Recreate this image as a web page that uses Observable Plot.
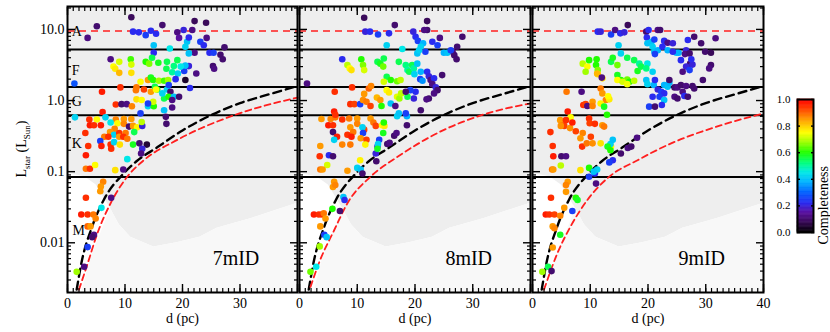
<!DOCTYPE html>
<html><head><meta charset="utf-8">
<script src="https://cdn.jsdelivr.net/npm/d3@7"></script>
<script src="https://cdn.jsdelivr.net/npm/@observablehq/plot@0.6"></script>
<style>
body{margin:0;background:#fff;}
#fig{position:relative;width:830px;height:332px;overflow:hidden;background:#fff;font-family:"Liberation Serif","Times New Roman",serif;}
#fig svg{position:absolute;top:0;}
#ylab{position:absolute;left:23px;top:149px;transform:translate(-50%,-50%) rotate(-90deg);font-size:14px;white-space:nowrap;color:#000;}
#ylab sub{font-size:9px;}
</style></head><body>
<div id="fig"><div id="ylab">L<sub>star</sub> (L<sub>Sun</sub>)</div></div>
<script>
// ---------- data ----------
const yDomain = [0.002, 21];
const xDomain = [0, 40];
const yMajor = [0.01, 0.1, 1, 10];
const yMajorText = ["0.01", "0.1", "1.0", "10.0"];
const yMinor = [0.003,0.004,0.005,0.006,0.007,0.008,0.009,0.02,0.03,0.04,0.05,0.06,0.07,0.08,0.09,0.2,0.3,0.4,0.5,0.6,0.7,0.8,0.9,2,3,4,5,6,7,8,9,20];
const xMajor = [0, 10, 20, 30, 40];
const xMinor = d3.range(0, 41, 1);
const xLabelsInner = [0, 10, 20, 30];
const xLabelsLast = [0, 10, 20, 30, 40];

const specBounds = [5.2, 1.55, 0.62, 0.084];   // A/F, F/G, G/K, K/M
const aLine = [9.5];
const letterNames = ["A", "F", "G", "K", "M"];
const letterD = [0.75, 0.75, 0.75, 0.75, 0.85];
const letterL = [9.3, 2.62, 0.96, 0.25, 0.0151];

const tagNames = ["7mID", "8mID", "9mID"];
const tagD = 29.3, tagL = 0.006;

// grey background population: dense cloud outline and sparse lower zone
const denseD   = [0, 3, 5, 7.5, 9, 11, 15, 19, 23, 26, 32, 40];
const denseLow = [0.095, 0.085, 0.065, 0.03, 0.018, 0.012, 0.0087, 0.01, 0.012, 0.016, 0.022, 0.036];
const sparseD  = [2.5, 4, 6, 7.5, 9, 11, 15, 19, 23, 26, 32, 40];
const sparseHi = [0.002, 0.006, 0.015, 0.03, 0.018, 0.012, 0.0087, 0.01, 0.012, 0.016, 0.022, 0.036];

// dashed curves
const blackD = [1.6, 2.4, 4.3, 6.3, 9.8, 12, 15.6, 20, 24.9, 30, 35, 40];
const blackL = [0.0022, 0.0051, 0.017, 0.04, 0.095, 0.14, 0.22, 0.38, 0.62, 0.92, 1.22, 1.6];
const red7D = [2.0, 3.5, 5.2, 7.5, 10.4, 13.3, 19.1, 28.9, 40];
const red7L = [0.0022, 0.0051, 0.0136, 0.036, 0.085, 0.145, 0.28, 0.62, 1.1];
const red8D = [1.9, 3.6, 6.0, 8.3, 12.3, 16.9, 23.3, 32.5, 40];
const red8L = [0.0024, 0.0058, 0.015, 0.036, 0.085, 0.16, 0.33, 0.66, 0.91];
const red9D = [2.0, 4.3, 6.6, 9.5, 13.3, 18.2, 24.0, 32.7, 40];
const red9L = [0.0022, 0.0071, 0.017, 0.04, 0.085, 0.145, 0.25, 0.45, 0.66];

// colour bar
const colorStops = [0, 0.08, 0.15, 0.22, 0.3, 0.38, 0.45, 0.52, 0.6, 0.68, 0.75, 0.85, 0.93, 1];
const colorRange = ["#000000","#3a0a5a","#5a10a0","#2a2af0","#0060ff","#00b4ff","#00e8e8","#00ff80","#20ff00","#a0ff00","#ffff00","#ff9a00","#ff4000","#ff0000"];
const cbTicks = [0, 0.2, 0.4, 0.6, 0.8, 1.0];

// stars: [d (pc), L (Lsun), completeness]
const stars7 = [
[11.1,14.8,0.08],[5.1,11.1,0.1],[3.5,7.6,0.12],[11.4,9.3,0.22],[12.4,9.1,0.22],[13.6,8.3,0.25],[14.5,9.6,0.22],[15.4,8.7,0.22],[16.5,11.5,0.1],[19.1,9.1,0.12],[19.4,7.6,0.15],[20.2,9.8,0.2],[21.7,9.8,0.12],[22.1,13.1,0.08],[24.1,12.4,0.08],[20.8,6.7,0.4],[21.1,7.7,0.22],[23.1,6.7,0.25],[24.2,7.6,0.12],[23.7,6.0,0.22],[20.5,5.7,0.42],[22.1,4.7,0.12],[21.1,4.6,0.4],[24.7,4.7,0.22],[25.4,4.7,0.25],[27.3,5.6,0.1],[26.6,4.4,0.1],[27.0,3.8,0.1],[25.3,3.05,0.1],[25.5,2.8,0.12],[15.0,6.0,0.4],[17.8,5.4,0.45],[15.0,4.7,0.22],[7.5,3.8,0.12],[9.0,3.5,0.72],[8.0,3.0,0.75],[8.3,2.8,0.77],[9.0,2.45,0.82],[11.0,3.8,0.62],[11.1,3.2,0.72],[11.1,2.45,0.78],[13.6,3.5,0.6],[14.2,3.3,0.66],[14.7,4.0,0.55],[15.8,3.4,0.58],[17.3,3.5,0.55],[17.2,2.8,0.55],[18.5,3.05,0.52],[19.1,3.7,0.55],[18.2,2.5,0.5],[19.2,2.4,0.42],[20.3,2.6,0.25],[21.1,3.05,0.2],[22.4,2.4,0.12],[20.5,3.1,0.4],[19.7,3.0,0.45],[20.5,1.94,0.04],[18.8,2.0,0.22],[21.3,1.5,0.22],[12.7,1.84,0.75],[14.0,1.94,0.85],[14.5,2.1,0.58],[14.9,1.94,0.6],[15.9,1.9,0.68],[16.8,1.9,0.62],[17.5,1.94,0.68],[15.6,1.43,0.58],[15.2,1.56,0.55],[17.3,1.43,0.42],[17.6,1.65,0.25],[17.9,1.33,0.1],[16.8,1.07,0.55],[17.6,1.13,0.6],[18.5,1.13,0.4],[19.4,1.13,0.1],[18.2,1.02,0.12],[16.5,1.26,0.42],[6.0,1.33,0.97],[9.2,1.53,0.95],[12.0,1.53,0.88],[11.9,1.4,0.88],[14.5,1.33,0.85],[13.3,1.43,0.93],[15.4,1.43,0.75],[1.2,1.74,0.28],[8.4,0.88,0.95],[9.4,0.89,0.1],[10.3,0.89,0.12],[11.2,0.83,0.87],[12.0,1.04,0.78],[12.9,1.02,0.75],[14.0,0.83,0.42],[15.0,0.83,0.6],[14.9,0.96,0.72],[12.7,0.66,0.25],[14.0,0.91,0.25],[16.8,0.73,0.4],[17.1,0.59,0.1],[18.2,0.8,0.12],[17.2,0.47,0.1],[6.1,0.69,0.97],[1.3,0.58,0.42],[3.8,0.54,0.95],[5.1,0.54,0.75],[6.6,0.58,0.42],[8.4,0.54,0.87],[9.8,0.55,0.85],[11.1,0.55,0.85],[3.9,0.45,0.97],[4.6,0.45,0.95],[5.8,0.45,0.97],[7.5,0.49,0.45],[8.7,0.48,0.75],[9.8,0.47,0.87],[10.7,0.43,0.1],[11.4,0.44,0.85],[12.1,0.42,0.76],[13.0,0.44,0.2],[12.9,0.5,0.7],[3.1,0.35,0.95],[8.2,0.4,0.87],[7.4,0.36,0.85],[8.1,0.33,0.42],[9.0,0.35,0.95],[10.1,0.35,0.88],[11.6,0.36,0.55],[6.4,0.31,0.88],[7.1,0.31,0.95],[9.0,0.31,0.85],[9.7,0.31,0.95],[5.7,0.27,0.25],[5.9,0.23,0.97],[3.6,0.23,0.95],[7.5,0.24,0.95],[8.1,0.26,0.42],[9.1,0.24,0.78],[10.4,0.29,0.88],[11.4,0.24,0.58],[12.5,0.25,0.1],[13.8,0.24,0.05],[13.0,0.21,0.2],[12.8,0.18,0.12],[7.6,0.21,0.95],[3.2,0.17,0.97],[3.2,0.11,0.88],[3.9,0.11,0.95],[4.8,0.124,0.75],[8.3,0.105,0.78],[10.4,0.15,0.45],[9.7,0.107,0.12],[6.2,0.072,0.87],[5.8,0.062,0.85],[5.7,0.053,0.85],[3.2,0.043,0.95],[7.6,0.043,0.12],[2.4,0.025,0.97],[3.5,0.025,0.95],[4.5,0.025,0.88],[5.9,0.031,0.45],[4.9,0.022,0.87],[3.5,0.017,0.9],[4.0,0.017,0.85],[4.6,0.013,0.12],[4.3,0.012,0.1],[3.5,0.0087,0.25],[2.9,0.0046,0.12],[1.6,0.0039,0.68]
];
const stars8 = [
[11.2,14.6,0.08],[11.4,9.3,0.2],[12.2,9.3,0.22],[13.6,8.5,0.25],[15.5,8.8,0.22],[16.5,11.5,0.1],[22.1,13.1,0.08],[22.1,9.8,0.1],[21.6,9.8,0.12],[19.7,9.3,0.2],[20.1,7.9,0.22],[20.5,6.9,0.25],[21.4,6.4,0.38],[21.0,5.7,0.42],[21.8,4.85,0.25],[20.4,4.6,0.4],[20.7,5.1,0.42],[23.0,6.7,0.22],[23.9,6.0,0.25],[24.3,7.6,0.12],[28.2,7.9,0.1],[27.3,5.7,0.1],[26.5,4.85,0.12],[26.8,4.35,0.1],[27.2,3.8,0.1],[25.0,4.7,0.38],[25.6,4.7,0.4],[26.2,5.1,0.25],[15.1,6.0,0.42],[17.8,5.3,0.45],[7.4,3.8,0.22],[8.3,3.15,0.7],[8.7,2.83,0.75],[9.0,2.68,0.78],[10.7,3.8,0.6],[11.0,3.15,0.66],[11.2,2.68,0.72],[13.5,3.5,0.55],[14.0,3.3,0.58],[14.6,3.9,0.55],[14.5,3.0,0.65],[17.2,3.5,0.55],[18.4,3.15,0.52],[18.7,2.68,0.5],[19.0,2.54,0.55],[19.5,3.15,0.55],[19.8,2.83,0.5],[19.9,2.35,0.42],[20.4,3.3,0.4],[21.0,2.54,0.38],[20.9,2.0,0.25],[21.3,1.9,0.35],[22.1,2.54,0.22],[22.4,2.2,0.2],[22.7,1.94,0.12],[23.3,2.05,0.22],[24.7,2.28,0.1],[23.0,1.7,0.12],[23.6,1.53,0.2],[23.9,1.4,0.1],[23.3,1.26,0.12],[22.4,1.07,0.1],[22.0,1.04,0.12],[21.0,0.73,0.1],[19.8,1.07,0.2],[20.1,1.33,0.22],[19.2,1.4,0.25],[15.1,2.16,0.55],[15.8,1.94,0.6],[16.9,1.87,0.65],[17.5,1.94,0.7],[14.6,1.84,0.72],[12.0,1.48,0.9],[12.4,1.6,0.87],[6.1,1.33,0.95],[9.1,1.53,0.95],[1.3,1.74,0.12],[11.2,1.24,0.85],[13.4,1.1,0.82],[14.0,1.02,0.85],[15.1,1.4,0.75],[15.5,1.3,0.77],[16.9,1.13,0.73],[17.3,1.07,0.68],[17.6,1.26,0.7],[18.7,1.13,0.55],[18.4,1.33,0.1],[8.8,0.89,0.95],[9.5,0.89,0.93],[10.5,0.89,0.25],[11.0,1.02,0.86],[11.6,0.96,0.88],[12.3,0.84,0.93],[14.2,0.84,0.6],[15.8,0.91,0.4],[16.6,0.84,0.12],[16.9,0.6,0.42],[17.2,0.66,0.4],[18.6,0.6,0.38],[18.4,0.66,0.25],[18.6,0.45,0.1],[3.8,0.55,0.85],[5.4,0.55,0.87],[6.2,0.58,0.88],[6.0,0.7,0.97],[6.2,0.63,0.95],[5.0,0.45,0.97],[5.8,0.45,0.95],[8.6,0.56,0.88],[10.0,0.56,0.85],[10.0,0.47,0.87],[8.8,0.42,0.85],[9.3,0.36,0.88],[7.4,0.54,0.95],[11.2,0.39,0.93],[12.3,0.56,0.85],[12.8,0.49,0.88],[13.2,0.44,0.93],[14.3,0.45,0.75],[14.7,0.44,0.77],[10.9,0.42,0.42],[11.0,0.35,0.25],[14.5,0.35,0.58],[14.6,0.49,0.6],[5.8,0.36,0.1],[6.5,0.31,0.97],[8.3,0.33,0.95],[9.0,0.31,0.97],[6.0,0.28,0.42],[3.6,0.23,0.85],[7.4,0.24,0.87],[8.8,0.24,0.88],[10.6,0.295,0.85],[11.6,0.28,0.93],[11.4,0.24,0.76],[5.1,0.17,0.22],[5.8,0.165,0.1],[3.5,0.165,0.95],[4.8,0.124,0.72],[3.6,0.107,0.88],[4.0,0.107,0.85],[8.3,0.103,0.85],[10.5,0.145,0.76],[10.0,0.113,0.42],[10.6,0.107,0.4],[10.9,0.094,0.1],[13.3,0.14,0.1],[13.8,0.28,0.25],[13.5,0.225,0.22],[13.2,0.18,0.2],[13.6,0.245,0.42],[13.5,0.21,0.58],[15.2,0.245,0.1],[15.6,0.255,0.12],[16.4,0.32,0.1],[16.8,0.35,0.12],[6.0,0.072,0.85],[5.8,0.061,0.85],[6.2,0.065,0.87],[2.5,0.025,0.97],[3.35,0.025,0.95],[3.9,0.025,0.95],[4.2,0.026,0.88],[4.5,0.022,0.85],[5.7,0.03,0.6],[3.6,0.017,0.85],[7.6,0.044,0.4],[7.8,0.04,0.22],[7.0,0.028,0.1],[4.3,0.013,0.25],[4.7,0.012,0.4],[3.5,0.0089,0.68],[2.9,0.0046,0.45],[1.9,0.0039,0.65]
];
const stars9 = [
[16.5,11.5,0.08],[11.3,9.3,0.22],[11.8,9.3,0.2],[13.6,8.5,0.25],[14.3,9.8,0.12],[15.2,8.8,0.22],[15.9,9.1,0.2],[19.7,9.3,0.1],[20.1,9.8,0.22],[21.7,9.8,0.12],[22.1,9.8,0.1],[19.8,7.7,0.22],[20.6,6.7,0.4],[21.1,7.2,0.25],[22.8,6.9,0.22],[23.4,6.5,0.12],[24.3,6.4,0.2],[26.9,7.1,0.22],[28.0,7.9,0.1],[29.2,6.4,0.1],[31.7,7.5,0.12],[14.9,6.0,0.42],[19.9,6.4,0.4],[20.8,5.7,0.42],[21.1,4.85,0.4],[21.7,5.1,0.38],[21.2,4.5,0.25],[22.5,5.7,0.22],[23.4,5.1,0.38],[24.9,4.7,0.4],[25.3,4.7,0.38],[24.3,4.85,0.22],[26.6,5.1,0.2],[26.4,4.5,0.12],[27.2,4.6,0.1],[29.9,4.85,0.1],[30.9,4.7,0.08],[27.3,3.3,0.1],[27.7,3.2,0.2],[30.9,3.15,0.1],[30.6,2.83,0.12],[29.5,1.94,0.1],[25.7,3.7,0.22],[26.6,3.0,0.2],[27.2,2.68,0.25],[27.5,3.8,0.22],[26.0,2.54,0.12],[13.6,3.5,0.55],[13.9,4.0,0.58],[14.7,3.15,0.65],[8.7,3.3,0.7],[9.5,3.0,0.75],[9.2,2.54,0.68],[11.0,3.15,0.6],[11.1,3.8,0.6],[9.8,3.7,0.6],[11.3,2.68,0.66],[11.3,2.35,0.78],[12.1,2.05,0.78],[11.2,2.4,0.82],[12.0,2.1,0.12],[15.3,4.6,0.42],[16.4,4.0,0.55],[17.6,3.7,0.55],[18.5,3.3,0.5],[18.2,2.6,0.58],[18.8,3.0,0.55],[19.9,3.3,0.45],[19.7,2.83,0.52],[20.8,2.54,0.42],[14.7,2.28,0.58],[15.3,1.94,0.6],[16.4,1.97,0.65],[16.8,1.84,0.6],[14.7,1.94,0.75],[15.6,1.84,0.72],[16.4,1.7,0.74],[17.6,1.9,0.7],[19.7,1.94,0.4],[19.9,1.7,0.42],[21.0,1.65,0.38],[21.2,1.94,0.22],[21.7,1.43,0.2],[22.3,1.33,0.25],[22.8,1.26,0.22],[22.0,1.13,0.25],[22.8,1.65,0.38],[23.4,1.56,0.4],[23.7,1.78,0.38],[22.8,1.02,0.4],[22.4,0.865,0.22],[23.7,1.94,0.1],[24.6,1.53,0.1],[25.1,1.53,0.12],[25.7,1.65,0.1],[26.6,1.6,0.12],[27.7,1.6,0.1],[28.0,1.48,0.1],[24.6,1.13,0.12],[25.1,1.07,0.1],[26.0,1.33,0.12],[26.3,1.16,0.22],[26.9,1.13,0.1],[20.8,1.13,0.22],[20.2,0.82,0.25],[21.2,0.82,0.1],[5.9,1.33,0.88],[8.5,1.33,0.12],[11.8,1.48,0.88],[12.1,1.26,0.85],[12.7,1.02,0.87],[13.3,1.04,0.77],[13.1,1.15,0.75],[8.8,0.865,0.95],[9.2,0.89,0.93],[9.5,0.84,0.12],[6.1,0.7,0.97],[10.4,0.96,0.85],[10.4,0.84,0.87],[11.8,0.91,0.76],[12.9,0.63,0.6],[12.4,0.82,0.58],[6.6,0.58,0.75],[4.8,0.53,0.85],[5.2,0.45,0.88],[5.5,0.44,0.93],[4.9,0.44,0.86],[3.1,0.36,0.95],[6.5,0.41,0.86],[7.5,0.37,0.93],[8.7,0.35,0.87],[8.3,0.295,0.85],[8.6,0.225,0.95],[9.4,0.25,0.88],[10.1,0.31,0.93],[10.4,0.25,0.86],[5.8,0.53,0.95],[6.9,0.49,0.97],[9.8,0.56,0.95],[9.9,0.48,0.93],[10.8,0.47,0.95],[12.1,0.45,0.85],[12.4,0.43,0.88],[11.8,0.25,0.78],[13.6,0.225,0.75],[13.5,0.245,0.42],[13.9,0.28,0.4],[13.0,0.225,0.58],[13.5,0.2,0.6],[15.3,0.18,0.1],[16.5,0.215,0.12],[17.1,0.225,0.1],[18.1,0.3,0.12],[13.9,0.145,0.22],[13.3,0.135,0.25],[5.0,0.165,0.1],[5.8,0.165,0.12],[3.5,0.23,0.95],[3.6,0.165,0.97],[4.9,0.122,0.7],[3.4,0.107,0.88],[3.6,0.107,0.85],[8.3,0.105,0.78],[9.8,0.113,0.6],[9.8,0.085,0.25],[10.8,0.094,0.22],[11.2,0.107,0.42],[11.0,0.068,0.12],[10.6,0.1,0.4],[6.1,0.072,0.85],[5.8,0.065,0.87],[5.8,0.052,0.85],[3.2,0.043,0.95],[2.3,0.025,0.97],[2.9,0.025,0.95],[3.8,0.025,0.93],[5.5,0.031,0.85],[4.8,0.024,0.87],[7.5,0.043,0.6],[7.8,0.04,0.58],[6.9,0.028,0.25],[3.5,0.017,0.85],[3.8,0.016,0.87],[4.8,0.013,0.58],[3.5,0.0086,0.85],[1.7,0.0039,0.68],[2.7,0.0046,0.55],[3.3,0.004,0.1]
];

// ---------- drawing ----------
const FONT = '"Liberation Serif","Times New Roman",serif';
const colorScale = {type: "linear", domain: colorStops, range: colorRange};
const RED = "#ff1f1f";

function panel(o) {
  const rows = o.stars.map(([d, L, c]) => ({d, L, c}));
  const denseRows = denseD.map((d, i) => ({d, lo: denseLow[i], hi: yDomain[1]}));
  const sparseRows = sparseD.map((d, i) => ({d, lo: yDomain[0], hi: sparseHi[i]}));
  const blackRows = blackD.map((d, i) => ({d, L: blackL[i]}));
  const redRows = o.redD.map((d, i) => ({d, L: o.redL[i]}));
  const marks = [
    Plot.areaY(denseRows, {x: "d", y1: "lo", y2: "hi", fill: "#eeeeee"}),
    Plot.areaY(sparseRows, {x: "d", y1: "lo", y2: "hi", fill: "#f8f8f8"}),
    Plot.ruleY(specBounds, {stroke: "black", strokeWidth: 2}),
    Plot.ruleY(aLine, {stroke: RED, strokeWidth: 1.6, strokeDasharray: "7,5"}),
    Plot.line(blackRows, {x: "d", y: "L", stroke: "black", strokeWidth: 2.4, strokeDasharray: "8,5", curve: "monotone-x"}),
    Plot.line(redRows, {x: "d", y: "L", stroke: RED, strokeWidth: 1.8, strokeDasharray: "6,4", curve: "monotone-x"}),
    Plot.dot(rows, {x: "d", y: "L", fill: "c", r: 3.3}),
    Plot.text([{d: tagD, L: tagL, t: o.tag}], {x: "d", y: "L", text: "t", fontSize: 20}),
    Plot.text(["d (pc)"], {frameAnchor: "bottom", dy: 30, fontSize: 14}),
    // ticks (inward)
    Plot.axisX(xMajor, {anchor: "bottom", tickSize: -8, strokeWidth: 1.4, fill: "none"}),
    Plot.axisX(xMinor, {anchor: "bottom", tickSize: -4, strokeWidth: 1.2, fill: "none"}),
    Plot.axisX(xMajor, {anchor: "top", tickSize: -8, strokeWidth: 1.4, fill: "none"}),
    Plot.axisX(xMinor, {anchor: "top", tickSize: -4, strokeWidth: 1.2, fill: "none"}),
    Plot.axisY(yMajor, {anchor: "left", tickSize: -8, strokeWidth: 1.4, fill: "none"}),
    Plot.axisY(yMinor, {anchor: "left", tickSize: -4, strokeWidth: 1.2, fill: "none"}),
    Plot.axisY(yMajor, {anchor: "right", tickSize: -8, strokeWidth: 1.4, fill: "none"}),
    Plot.axisY(yMinor, {anchor: "right", tickSize: -4, strokeWidth: 1.2, fill: "none"}),
    Plot.axisX(o.xLabels, {anchor: "bottom", tickSize: 0, tickPadding: 6, label: null, fontSize: 14, tickFormat: d => String(d)}),
    Plot.frame({stroke: "black", strokeWidth: 2})
  ];
  if (o.showY) {
    marks.push(Plot.axisY(yMajor, {anchor: "left", tickSize: 0, tickPadding: 3, label: null, fontSize: 14,
      tickFormat: v => yMajorText[yMajor.indexOf(v)]}));
    marks.push(Plot.text(letterNames.map((t, i) => ({t, d: letterD[i], L: letterL[i]})),
      {x: "d", y: "L", text: "t", textAnchor: "start", fontSize: 14}));
  }
  const svg = Plot.plot({
    width: o.width, height: 332,
    marginLeft: o.ml, marginRight: o.mr, marginTop: 6, marginBottom: 40,
    x: {domain: xDomain, label: null},
    y: {type: "log", domain: yDomain, label: null},
    color: colorScale,
    style: {fontFamily: FONT, fontSize: "14px", background: "transparent", overflow: "visible", color: "black"},
    marks
  });
  svg.style.left = o.left + "px";
  return svg;
}

const fig = document.getElementById("fig");
fig.appendChild(panel({stars: stars7, redD: red7D, redL: red7L, tag: tagNames[0], left: 0, width: 298, ml: 67, mr: 1, xLabels: xLabelsInner, showY: true}));
fig.appendChild(panel({stars: stars8, redD: red8D, redL: red8L, tag: tagNames[1], left: 298, width: 233, ml: 1, mr: 1, xLabels: xLabelsInner, showY: false}));
fig.appendChild(panel({stars: stars9, redD: red9D, redL: red9L, tag: tagNames[2], left: 531, width: 233, ml: 1, mr: 1, xLabels: xLabelsLast, showY: false}));

// colour bar
const cbStep = 0.01;
const cbRows = d3.range(0, 1, cbStep).map(v => ({y1: v, y2: v + cbStep, c: v + cbStep / 2}));
const cb = Plot.plot({
  width: 70, height: 332, marginLeft: 37, marginRight: 17, marginTop: 99, marginBottom: 100,
  x: {domain: [0, 1], axis: null},
  y: {domain: [0, 1], label: null},
  color: colorScale,
  style: {fontFamily: FONT, fontSize: "11px", background: "transparent", overflow: "visible", color: "black"},
  marks: [
    Plot.rect(cbRows, {x1: 0, x2: 1, y1: "y1", y2: "y2", fill: "c", stroke: "c", strokeWidth: 0.6}),
    Plot.axisY(cbTicks, {anchor: "left", tickSize: 0, tickPadding: 7, label: null, fontSize: 11, tickFormat: d => d.toFixed(1)}),
    Plot.axisY(cbTicks, {anchor: "left", tickSize: -3, strokeWidth: 1.4, fill: "none"}),
    Plot.axisY(cbTicks, {anchor: "right", tickSize: -3, strokeWidth: 1.4, fill: "none"}),
    Plot.text(["Completeness"], {frameAnchor: "right", dx: 10, rotate: -90, fontSize: 14}),
    Plot.frame({stroke: "black", strokeWidth: 2})
  ]
});
cb.style.left = "760px";
fig.appendChild(cb);
</script></body></html>
